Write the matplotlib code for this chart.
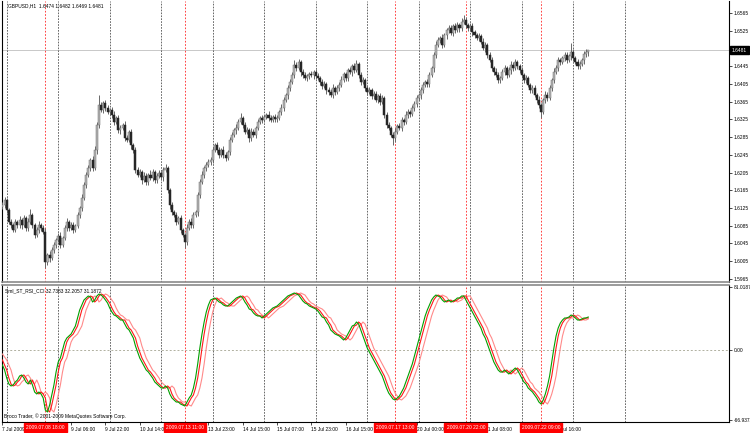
import numpy as np
import matplotlib
matplotlib.use("Agg")
import matplotlib.pyplot as plt
import matplotlib.transforms as mtransforms

plt.rcParams['font.family'] = ['Liberation Sans', 'DejaVu Sans']
FS = 3.5

# GBPUSD H1 closes, in pips above 1.0000 (bar 0 = 7 Jul 22:00)
closes = [
    6132, 6143, 6121, 6094, 6087, 6076, 6094, 6087, 6098, 6087, 6103, 6080, 6094, 6109, 6087, 6064, 6076, 6087, 6080, 6071,
    6003, 6019, 6012, 6030, 6042, 6053, 6062, 6042, 6057, 6080, 6094, 6080, 6087, 6076, 6085, 6109, 6125, 6148, 6177, 6200,
    6215, 6233, 6215, 6256, 6312, 6357, 6346, 6362, 6351, 6342, 6346, 6335, 6319, 6328, 6301, 6306, 6312, 6283, 6279, 6297,
    6267, 6256, 6211, 6200, 6206, 6188, 6197, 6184, 6200, 6193, 6206, 6188, 6197, 6204, 6195, 6211, 6215, 6166, 6132, 6116,
    6109, 6094, 6103, 6076, 6064, 6048, 6080, 6094, 6087, 6109, 6116, 6154, 6184, 6200, 6215, 6222, 6229, 6233, 6256, 6267,
    6256, 6245, 6256, 6245, 6238, 6251, 6279, 6290, 6301, 6306, 6319, 6328, 6312, 6297, 6301, 6283, 6297, 6290, 6306, 6319,
    6328, 6324, 6330, 6335, 6328, 6324, 6330, 6326, 6328, 6342, 6351, 6369, 6380, 6396, 6409, 6425, 6448, 6441, 6454, 6432,
    6425, 6418, 6423, 6427, 6425, 6432, 6423, 6418, 6409, 6400, 6405, 6391, 6387, 6380, 6396, 6387, 6396, 6403, 6414, 6427,
    6418, 6436, 6432, 6445, 6436, 6450, 6425, 6409, 6414, 6396, 6387, 6391, 6378, 6382, 6369, 6378, 6364, 6373, 6335, 6312,
    6306, 6290, 6283, 6297, 6310, 6306, 6324, 6319, 6335, 6342, 6337, 6351, 6360, 6373, 6380, 6391, 6403, 6409, 6405, 6425,
    6441, 6470, 6493, 6504, 6509, 6493, 6515, 6527, 6531, 6520, 6536, 6527, 6538, 6531, 6545, 6549, 6538, 6531, 6536, 6522,
    6515, 6509, 6513, 6500, 6486, 6493, 6470, 6459, 6441, 6432, 6425, 6414, 6418, 6432, 6441, 6425, 6436, 6448, 6441, 6454,
    6445, 6436, 6425, 6414, 6418, 6403, 6391, 6396, 6380, 6369, 6357, 6342, 6369, 6380, 6373, 6396, 6414, 6432, 6441, 6459,
    6454, 6463, 6470, 6459, 6468, 6477, 6463, 6454, 6445, 6450, 6459, 6472, 6477, 6481]
first_open = 6128

# upper / lower wick length beyond the body, pips
wick_up = [
    6, 8, 4, 5, 6, 4, 7, 5, 9, 4, 6, 5, 8, 14, 5, 4, 6, 8, 5, 6,
    8, 5, 10, 6, 7, 5, 6, 8, 5, 6, 9, 5, 6, 7, 4, 6, 5, 8, 6, 7,
    8, 6, 9, 10, 7, 22, 8, 5, 6, 7, 5, 6, 8, 5, 6, 7, 5, 9, 6, 5,
    6, 5, 7, 6, 8, 5, 9, 6, 5, 10, 6, 5, 8, 7, 5, 6, 9, 5, 4, 6,
    5, 8, 5, 6, 4, 5, 8, 7, 9, 6, 5, 7, 6, 8, 5, 6, 7, 8, 6, 5,
    7, 6, 5, 8, 6, 5, 7, 6, 5, 8, 6, 11, 5, 6, 7, 5, 8, 6, 5, 6,
    5, 7, 6, 5, 8, 6, 5, 7, 6, 5, 8, 6, 5, 7, 6, 8, 10, 6, 7, 5,
    6, 7, 5, 6, 8, 5, 7, 6, 5, 8, 6, 5, 7, 6, 9, 5, 6, 7, 8, 6,
    5, 6, 7, 5, 8, 9, 5, 6, 7, 5, 6, 8, 5, 6, 7, 5, 6, 8, 5, 6,
    7, 5, 6, 8, 5, 7, 6, 5, 8, 6, 5, 7, 6, 8, 5, 6, 7, 5, 8, 6,
    5, 7, 8, 6, 5, 9, 6, 5, 8, 6, 5, 7, 6, 5, 8, 11, 6, 5, 7, 6,
    5, 6, 7, 5, 8, 6, 5, 7, 6, 5, 8, 6, 5, 7, 6, 5, 8, 9, 6, 7,
    5, 6, 7, 5, 8, 6, 5, 7, 6, 5, 8, 6, 5, 8, 7, 6, 5, 8, 6, 7,
    5, 6, 7, 6, 5, 20, 6, 5, 7, 6, 5, 8, 6, 1]
wick_dn = [
    5, 6, 8, 5, 7, 6, 5, 8, 6, 9, 5, 6, 7, 5, 8, 6, 5, 7, 6, 5,
    14, 6, 8, 5, 6, 7, 5, 8, 6, 5, 7, 6, 5, 8, 6, 5, 7, 6, 5, 6,
    5, 7, 6, 5, 8, 6, 5, 7, 6, 5, 8, 6, 7, 5, 6, 8, 5, 7, 6, 5,
    8, 6, 7, 5, 6, 8, 5, 7, 6, 5, 8, 6, 7, 5, 6, 8, 5, 7, 9, 6,
    5, 8, 6, 7, 5, 14, 6, 5, 7, 6, 5, 8, 6, 5, 7, 6, 5, 6, 7, 5,
    6, 7, 5, 8, 6, 5, 7, 6, 5, 8, 6, 5, 7, 6, 5, 8, 6, 5, 7, 6,
    5, 8, 6, 5, 7, 6, 5, 8, 6, 5, 7, 6, 5, 8, 6, 5, 7, 6, 5, 8,
    6, 5, 7, 6, 5, 8, 6, 5, 7, 6, 5, 8, 6, 5, 7, 6, 5, 8, 6, 5,
    7, 6, 5, 8, 6, 5, 7, 6, 5, 8, 6, 5, 7, 6, 5, 8, 6, 5, 8, 7,
    6, 5, 16, 8, 6, 5, 7, 6, 5, 8, 6, 5, 7, 6, 5, 8, 6, 5, 7, 6,
    5, 8, 6, 5, 7, 6, 5, 8, 6, 5, 7, 6, 5, 8, 6, 5, 7, 6, 5, 8,
    6, 5, 7, 6, 5, 8, 6, 5, 7, 6, 5, 8, 6, 5, 7, 6, 5, 8, 6, 5,
    7, 6, 5, 8, 6, 5, 7, 6, 5, 8, 6, 14, 5, 7, 6, 5, 8, 6, 5, 7,
    6, 5, 7, 6, 5, 8, 6, 5, 7, 6, 5, 8, 6, 8]

# Sml_ST_RSI_CCI lines
ind_main = [
    -15, -20, -28, -34, -36, -35, -32, -30, -26, -25, -28, -32, -34, -30, -35, -42, -44, -42, -44, -48,
    -60, -62, -55, -45, -35, -22, -12, -8, 0, 8, 12, 14, 16, 20, 24, 32, 40, 45, 50, 52,
    54, 53, 48, 50, 54, 56, 55, 53, 50, 47, 42, 38, 35, 34, 32, 30, 30, 26, 22, 20,
    16, 12, 4, -2, -8, -12, -16, -20, -22, -25, -28, -32, -34, -36, -38, -38, -36, -38, -44, -48,
    -50, -52, -52, -54, -55, -56, -52, -48, -45, -38, -28, -14, 2, 16, 28, 38, 45, 50, 51, 52,
    50, 48, 47, 45, 44, 44, 46, 48, 50, 52, 53, 54, 52, 48, 45, 41, 40, 37, 35, 34,
    34, 32, 34, 36, 38, 40, 42, 43, 44, 46, 48, 50, 52, 54, 55, 56, 57, 56, 55, 52,
    49, 47, 46, 44, 43, 42, 41, 39, 36, 33, 32, 28, 25, 20, 18, 16, 15, 14, 12, 10,
    12, 16, 20, 24, 25, 28, 26, 20, 14, 8, 2, -2, -6, -10, -14, -18, -22, -26, -32, -38,
    -43, -46, -49, -50, -48, -46, -42, -38, -32, -26, -20, -14, -6, 2, 10, 18, 26, 34, 40, 45,
    50, 53, 55, 54, 53, 50, 48, 49, 50, 48, 49, 50, 52, 52, 54, 54, 50, 46, 42, 38,
    34, 30, 26, 22, 16, 12, 6, 0, -6, -12, -16, -20, -22, -22, -20, -22, -24, -22, -20, -18,
    -20, -24, -28, -32, -34, -38, -40, -42, -45, -48, -52, -54, -50, -44, -36, -26, -12, 2, 14, 22,
    27, 30, 32, 32, 33, 35, 34, 32, 30, 30, 31, 32, 32, 33]
ind_signal = [
    -10, -15, -20, -28, -34, -36, -35, -32, -30, -26, -25, -28, -32, -34, -30, -35, -42, -44, -42, -44,
    -48, -60, -62, -55, -45, -35, -22, -12, -8, 0, 8, 12, 14, 16, 20, 24, 32, 40, 45, 50,
    52, 54, 53, 48, 50, 54, 56, 55, 53, 50, 47, 42, 38, 35, 34, 32, 30, 30, 26, 22,
    20, 16, 12, 4, -2, -8, -12, -16, -20, -22, -25, -28, -32, -34, -36, -38, -38, -36, -38, -44,
    -48, -50, -52, -52, -54, -55, -56, -52, -48, -45, -38, -28, -14, 2, 16, 28, 38, 45, 50, 51,
    52, 50, 48, 47, 45, 44, 44, 46, 48, 50, 52, 53, 54, 52, 48, 45, 41, 40, 37, 35,
    34, 34, 32, 34, 36, 38, 40, 42, 43, 44, 46, 48, 50, 52, 54, 55, 56, 57, 56, 55,
    52, 49, 47, 46, 44, 43, 42, 41, 39, 36, 33, 32, 28, 25, 20, 18, 16, 15, 14, 12,
    10, 12, 16, 20, 24, 25, 28, 26, 20, 14, 8, 2, -2, -6, -10, -14, -18, -22, -26, -32,
    -38, -43, -46, -49, -50, -48, -46, -42, -38, -32, -26, -20, -14, -6, 2, 10, 18, 26, 34, 40,
    45, 50, 53, 55, 54, 53, 50, 48, 49, 50, 48, 49, 50, 52, 52, 54, 54, 50, 46, 42,
    38, 34, 30, 26, 22, 16, 12, 6, 0, -6, -12, -16, -20, -22, -22, -20, -22, -24, -22, -20,
    -18, -20, -24, -28, -32, -34, -38, -40, -42, -45, -48, -52, -54, -50, -44, -36, -26, -12, 2, 14,
    22, 27, 30, 32, 32, 33, 35, 34, 32, 30, 30, 31, 32, 32]
ind_slow = [
    -4, -7, -10, -15, -20, -28, -34, -36, -35, -32, -30, -26, -25, -28, -32, -34, -30, -35, -42, -44,
    -42, -44, -48, -60, -62, -55, -45, -35, -22, -12, -8, 0, 8, 12, 14, 16, 20, 24, 32, 40,
    45, 50, 52, 54, 53, 48, 50, 54, 56, 55, 53, 50, 47, 42, 38, 35, 34, 32, 30, 30,
    26, 22, 20, 16, 12, 4, -2, -8, -12, -16, -20, -22, -25, -28, -32, -34, -36, -38, -38, -36,
    -38, -44, -48, -50, -52, -52, -54, -55, -56, -52, -48, -45, -38, -28, -14, 2, 16, 28, 38, 45,
    50, 51, 52, 50, 48, 47, 45, 44, 44, 46, 48, 50, 52, 53, 54, 52, 48, 45, 41, 40,
    37, 35, 34, 34, 32, 34, 36, 38, 40, 42, 43, 44, 46, 48, 50, 52, 54, 55, 56, 57,
    56, 55, 52, 49, 47, 46, 44, 43, 42, 41, 39, 36, 33, 32, 28, 25, 20, 18, 16, 15,
    14, 12, 10, 12, 16, 20, 24, 25, 28, 26, 20, 14, 8, 2, -2, -6, -10, -14, -18, -22,
    -26, -32, -38, -43, -46, -49, -50, -48, -46, -42, -38, -32, -26, -20, -14, -6, 2, 10, 18, 26,
    34, 40, 45, 50, 53, 55, 54, 53, 50, 48, 49, 50, 48, 49, 50, 52, 52, 54, 54, 50,
    46, 42, 38, 34, 30, 26, 22, 16, 12, 6, 0, -6, -12, -16, -20, -22, -22, -20, -22, -24,
    -22, -20, -18, -20, -24, -28, -32, -34, -38, -40, -42, -45, -48, -52, -54, -50, -44, -36, -26, -12,
    2, 14, 22, 27, 30, 32, 32, 33, 35, 34, 32, 30, 30, 31]

# time axis
time_bars = [0, 32, 48, 64, 96, 112, 128, 144, 160, 193, 225, 257]
time_labels = ["7 Jul 2009", "9 Jul 06:00", "9 Jul 22:00", "10 Jul 14:00", "13 Jul 23:00",
               "14 Jul 15:00", "15 Jul 07:00", "15 Jul 23:00", "16 Jul 15:00", "20 Jul 00:00",
               "21 Jul 08:00", "22 Jul 16:00"]
signal_bars = [20, 85, 183, 216, 251]
signal_labels = ["2009.07.08 18:00", "2009.07.13 11:00", "2009.07.17 13:00",
                 "2009.07.20 22:00", "2009.07.22 09:00"]
day_bars = [2, 26, 50, 74, 98, 122, 146, 170, 194, 218, 242, 266, 290]

price_ticks = [1.5965, 1.6005, 1.6045, 1.6085, 1.6125, 1.6165, 1.6205, 1.6245, 1.6285,
               1.6325, 1.6365, 1.6405, 1.6445, 1.6525, 1.6565]
last_price = 1.6481

W, H = 750, 433
fig = plt.figure(figsize=(7.5, 4.33), dpi=100)


def fx(px):
    return px / W


def fy(py):
    return 1 - py / H


ax = fig.add_axes([fx(2), fy(282), fx(729) - fx(2), fy(1) - fy(282)])
ax2 = fig.add_axes([fx(2), fy(422), fx(729) - fx(2), fy(285) - fy(422)], sharex=ax)

# candles
c = np.array(closes) / 10000 + 1
o = np.array([first_open] + closes[:-1]) / 10000 + 1
hi = np.maximum(o, c) + np.array(wick_up) / 10000
lo = np.minimum(o, c) - np.array(wick_dn) / 10000
idx = np.arange(len(c))
bull = c >= o
bear = ~bull

ax.vlines(idx, lo, hi, color="#686868", lw=0.7, zorder=3)
ax.bar(idx[bull], np.maximum(c - o, 0.00005)[bull], bottom=o[bull], width=0.95,
       color="#b4b4b4", edgecolor="#6e6e6e", lw=0.35, zorder=4)
ax.bar(idx[bear], np.maximum(o - c, 0.00005)[bear], bottom=c[bear], width=0.95,
       color="#262626", edgecolor="#262626", lw=0.35, zorder=4)

ax.axhline(last_price, color="#c8c8c8", lw=0.7, zorder=1)

# indicator
ax2.axhline(0, color="#b0b0a0", lw=0.7, ls=(0, (2, 2)), zorder=1)
ax2.plot(idx, ind_slow, color="#ff8a8a", lw=0.8, zorder=3)
ax2.plot(idx, ind_signal, color="#ff1a1a", lw=0.8, zorder=4)
ax2.plot(idx, ind_main, color="#00a000", lw=0.8, zorder=5)

# separators and signal lines
for a in (ax, ax2):
    for b in day_bars:
        a.axvline(b, color="#505050", lw=0.6, ls=(0, (2, 1.5)), zorder=2)
    for b in signal_bars:
        a.axvline(b, color="#ff2020", lw=0.6, ls=(0, (2, 2)), zorder=2)

ax.set_xlim(-0.2, 338.6)
ax.set_ylim(1.59581, 1.65921)
ax2.set_ylim(-72, 65)

for a in (ax, ax2):
    a.spines["top"].set_visible(False)
    a.spines["left"].set_color("black")
    a.spines["right"].set_color("black")
    a.spines["left"].set_linewidth(0.8)
    a.spines["right"].set_linewidth(0.8)
    a.yaxis.tick_right()
    a.tick_params(axis="y", labelsize=FS, length=2, width=0.5, pad=1.2, colors="black")
ax.spines["bottom"].set_color("#8a8a8a")
ax.spines["bottom"].set_linewidth(1.2)
ax2.spines["top"].set_visible(True)
ax2.spines["top"].set_color("#8a8a8a")
ax2.spines["top"].set_linewidth(1.2)
ax2.spines["bottom"].set_linewidth(0.8)

ax.set_yticks(price_ticks)
ax.set_yticklabels([f"{p:.4f}" for p in price_ticks])
ax.tick_params(axis="x", bottom=False, labelbottom=False)

ax2.set_yticks([63, 0, -70])
ax2.set_yticklabels(["81.0187", "0.00", "-66.9372"])

ax2.set_xticks(time_bars)
ax2.set_xticklabels(time_labels)
ax2.tick_params(axis="x", labelsize=FS, length=2, width=0.5, pad=1.5)
for lbl in ax2.get_xticklabels():
    lbl.set_ha("left")

# current price box
trans = mtransforms.blended_transform_factory(ax.transAxes, ax.transData)
ax.text(1.004, last_price, f"{last_price:.4f}", transform=trans, ha="left", va="center",
        fontsize=FS, color="white", clip_on=False, zorder=10,
        bbox=dict(boxstyle="square,pad=0.35", fc="black", ec="black"))

# signal time boxes on the time axis
trans2 = mtransforms.blended_transform_factory(ax2.transData, ax2.transAxes)
for b, t in zip(signal_bars, signal_labels):
    ax2.text(b, -0.022, t, transform=trans2, ha="center", va="top", fontsize=FS,
             color="white", clip_on=False, zorder=10,
             bbox=dict(boxstyle="square,pad=0.45", fc="#ff0000", ec="#ff0000"))

fig.text(fx(8), fy(6), "GBPUSD,H1  1.6474 1.6482 1.6469 1.6481", fontsize=FS, va="center")
fig.text(fx(5), fy(291), "Sml_ST_RSI_CCI 32.7383 32.2057 31.1872", fontsize=FS, va="center")
fig.text(fx(4), fy(416), "Broco Trader, \u00a9 2001-2009 MetaQuotes Software Corp.", fontsize=FS,
         va="center")

fig.savefig("out.png", dpi=100)
